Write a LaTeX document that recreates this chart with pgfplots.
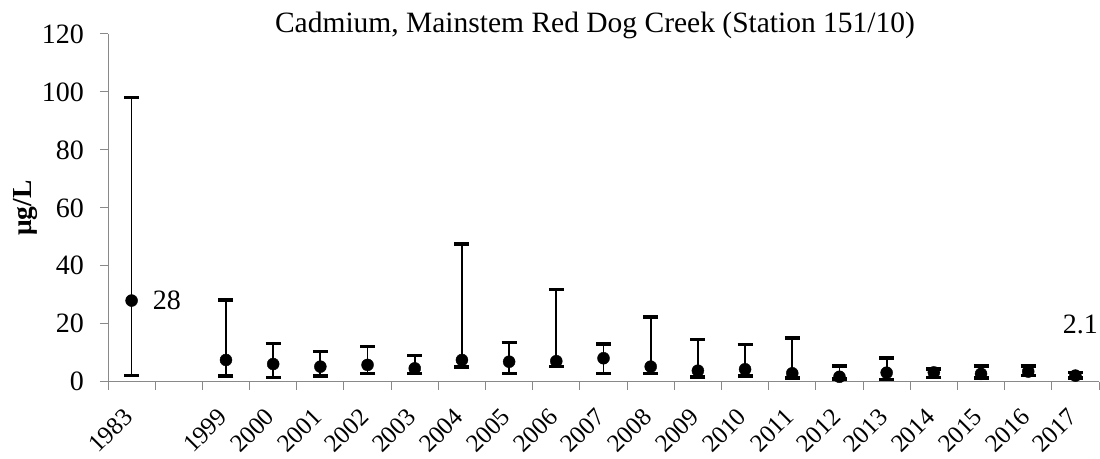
\documentclass[border=0pt]{standalone}
\usepackage{pgfplots}
\pgfplotsset{compat=1.18}
\usepackage{pgfplotstable}
\usepackage{fontspec}
\setmainfont{Liberation Serif}
\definecolor{axgray}{HTML}{898989}
\pgfplotstableread{
x y max min
0 28 98 2.1
2 7.5 28.2 2.0
3 6.1 13.2 1.4
4 5.2 10.4 2.0
5 5.8 12.1 2.9
6 4.6 9.0 2.9
7 7.5 47.5 5.0
8 6.9 13.5 2.9
9 7.1 31.9 5.2
10 8.1 13.0 2.9
11 5.2 22.3 2.9
12 3.8 14.6 1.7
13 4.3 12.9 2.0
14 2.9 15.0 1.2
15 1.7 5.5 0.9
16 3.1 8.1 0.8
17 3.2 4.4 1.4
18 2.7 5.4 1.2
19 3.5 5.4 2.1
20 2.1 3.1 1.2
}\cddata
\begin{document}
\begin{tikzpicture}[x=1pt,y=1pt]
\begin{axis}[
  at={(108pt,76.3pt)}, anchor=south west,
  width=991pt, height=347.7pt, scale only axis,
  xmin=-0.5, xmax=20.5, ymin=0, ymax=120,
  axis x line*=bottom, axis y line*=left,
  axis line style={draw=axgray, line width=1pt},
  tick align=outside,
  tick style={draw=axgray, line width=1pt},
  ytick={0,20,...,120},
  major tick length=8pt, minor tick length=8pt,
  xtick={0,...,20},
  xticklabels={1983,,1999,2000,2001,2002,2003,2004,2005,2006,2007,2008,2009,2010,2011,2012,2013,2014,2015,2016,2017},
  major x tick style={draw=none},
  minor xtick={-0.5,0.5,...,20.5},
  /pgf/number format/assume math mode=true,
  yticklabel style={font=\fontsize{28}{28}\selectfont, inner sep=0pt, xshift=-16pt},
  xticklabel style={font=\fontsize{25}{25}\selectfont, xshift=-3pt, yshift=-23pt, rotate=45, anchor=east, inner sep=0pt},
  clip=false,
]
\addplot[black, only marks, mark=*, mark size=6pt,
  error bars/.cd, y dir=both, y explicit, error mark=-,
  error bar style={line width=1.8pt, black},
  error mark options={rotate=90, line width=3.5pt, mark size=7.5pt, black}]
  table[x=x, y=y, y error plus expr=\thisrow{max}-\thisrow{y}, y error minus expr=\thisrow{y}-\thisrow{min}] {\cddata};
\node[anchor=west, inner sep=0pt, font=\fontsize{28}{28}\selectfont] at (axis cs:0,28) [xshift=21pt] {28};
\node[inner sep=0pt, font=\fontsize{28}{28}\selectfont] at (axis cs:20,19.9) [xshift=5pt] {2.1};
\end{axis}
\node[anchor=base, inner sep=0pt, font=\fontsize{29.5}{29.5}\selectfont] at (595pt,425.3pt) {Cadmium, Mainstem Red Dog Creek (Station 151/10)};
\node[rotate=90, inner sep=0pt, font=\fontsize{27.5}{27.5}\selectfont\bfseries] at (25pt,250pt) {μg/L};
\pgfresetboundingbox
\path[use as bounding box] (0,0) rectangle (1100pt,458pt);
\end{tikzpicture}
\end{document}
